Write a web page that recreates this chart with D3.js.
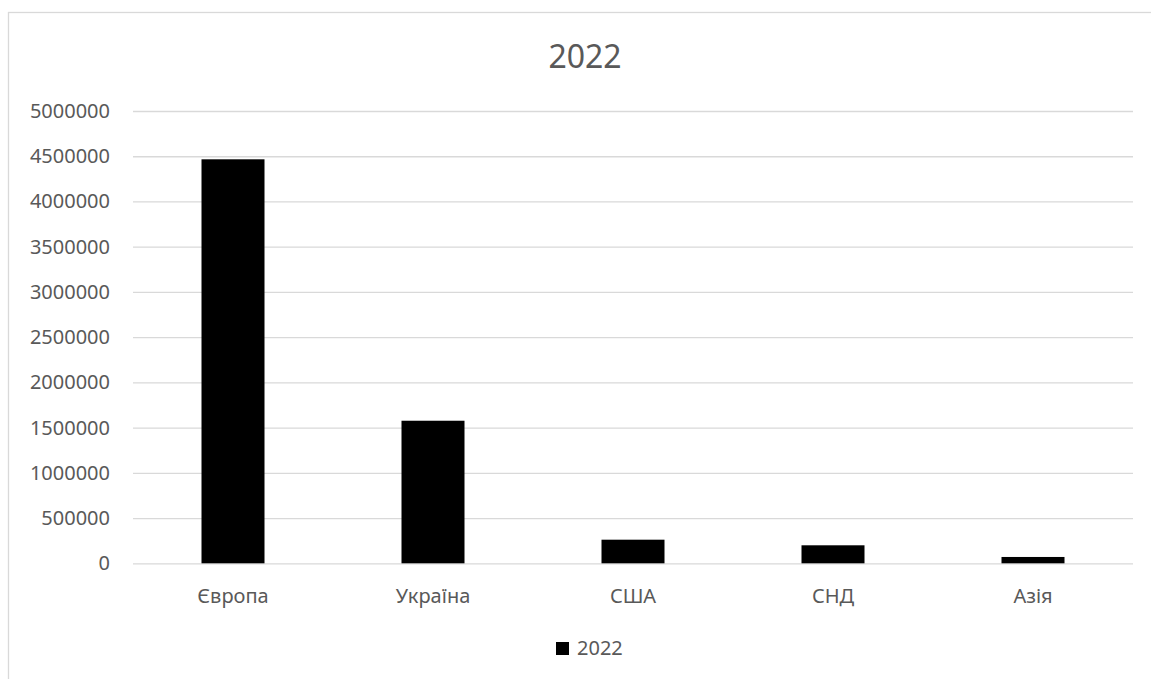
<!DOCTYPE html>
<html>
<head>
<meta charset="utf-8">
<script src="https://cdn.jsdelivr.net/npm/d3@7"></script>
<style>
  body { margin: 0; background: #fff; }
  text { font-family: "Noto Sans", "Open Sans", sans-serif; fill: #595959; }
</style>
</head>
<body>
<div id="chart"></div>
<script>
// data
const categories = ["Європа", "Україна", "США", "СНД", "Азія"];
const values2022 = [4466000, 1576000, 261000, 199000, 70000];
const yTicks = [0, 500000, 1000000, 1500000, 2000000, 2500000, 3000000, 3500000, 4000000, 4500000, 5000000];
const seriesName = "2022";
const chartTitle = "2022";

const W = 1151, H = 679;
const plot = { left: 133, right: 1133, top: 111, bottom: 563.3 };

const svg = d3.select("#chart")
    .append("svg")
    .attr("width", W)
    .attr("height", H);

// chart area border (right/bottom edges fall outside the picture)
svg.append("rect")
    .attr("x", 8.5).attr("y", 12.5)
    .attr("width", 1200).attr("height", 700)
    .attr("fill", "none")
    .attr("stroke", "#d9d9d9")
    .attr("stroke-width", 1.3);

const x = d3.scaleBand()
    .domain(categories)
    .range([plot.left, plot.right])
    .paddingInner(0.685)
    .paddingOuter(0.3425);

const y = d3.scaleLinear()
    .domain([0, 5000000])
    .range([plot.bottom, plot.top]);

// gridlines
svg.append("g")
    .attr("transform", `translate(${plot.left},0)`)
    .call(d3.axisLeft(y).tickValues(yTicks).tickSize(-(plot.right - plot.left)).tickFormat(""))
    .call(g => g.select(".domain").remove())
    .call(g => g.selectAll("line").attr("stroke", "#d9d9d9").attr("stroke-width", 1.3));

// y labels
svg.append("g")
    .attr("transform", `translate(${plot.left},0)`)
    .call(d3.axisLeft(y).tickValues(yTicks).tickSize(0).tickPadding(23).tickFormat(d3.format("d")))
    .call(g => g.select(".domain").remove())
    .call(g => g.selectAll("text").attr("font-size", 20).style("font-family", null));

// bars
svg.selectAll(".bar")
    .data(values2022)
    .enter()
    .append("rect")
    .attr("class", "bar")
    .attr("x", (d, i) => x(categories[i]))
    .attr("y", d => y(d))
    .attr("width", x.bandwidth())
    .attr("height", d => y(0) - y(d))
    .attr("fill", "#000");

// x labels
svg.append("g")
    .attr("transform", `translate(0,${plot.bottom})`)
    .call(d3.axisBottom(x).tickSize(0).tickPadding(25.5))
    .call(g => g.select(".domain").remove())
    .call(g => g.selectAll("text").attr("font-size", 20).style("font-family", null));

// title
svg.append("text")
    .attr("x", 585)
    .attr("y", 68)
    .attr("text-anchor", "middle")
    .attr("font-size", 32)
    .text(chartTitle);

// legend
svg.append("rect")
    .attr("x", 556).attr("y", 642)
    .attr("width", 13).attr("height", 13)
    .attr("fill", "#000");
svg.append("text")
    .attr("x", 577).attr("y", 655)
    .attr("font-size", 20)
    .text(seriesName);
</script>
</body>
</html>
